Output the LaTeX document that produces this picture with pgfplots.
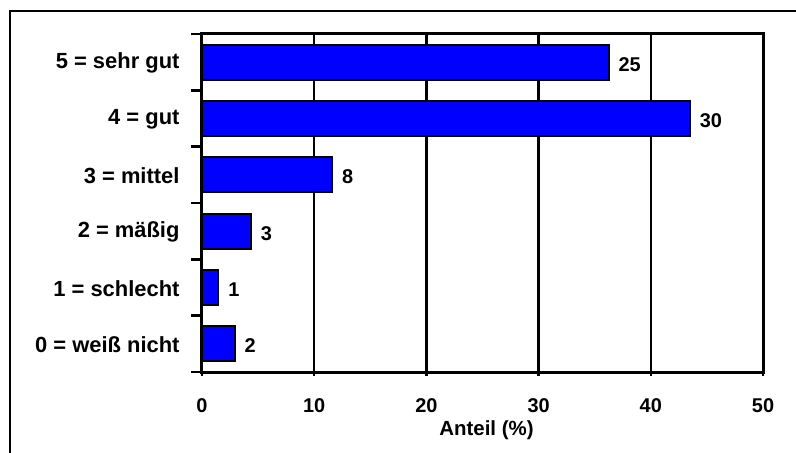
\documentclass[border=0pt]{standalone}
\usepackage{fontspec}
\setmainfont{Liberation Sans}
\usepackage{pgfplots}
\usepackage{pgfplotstable}
\pgfplotsset{compat=1.18}

% rating, share of answers in percent, number of answers
\pgfplotstableread{
cat pct n
0 2.90 2
1 1.45 1
2 4.35 3
3 11.59 8
4 43.48 30
5 36.23 25
}\ratings

\begin{document}
\begin{tikzpicture}
\useasboundingbox (-202bp,-81bp) rectangle (594bp,372bp);
% outer frame
\draw[line width=2.5bp] (-192bp,-81bp) -- (-192bp,361bp) -- (594bp,361bp);
\begin{axis}[
  at={(0,0)}, anchor=south west,
  scale only axis,
  width=561bp, height=338bp,
  xbar, bar width=35bp,
  xmin=0, xmax=50,
  ymin=-0.5, ymax=5.5,
  xtick={0,10,...,50},
  ytick={0,...,5},
  yticklabels={0 = weiß nicht,1 = schlecht,2 = mäßig,3 = mittel,4 = gut,5 = sehr gut},
  minor ytick={-0.5,0.5,...,5.5},
  major tick length=0pt,
  minor tick length=11bp,
  every tick/.style={black, line width=2.5bp},
  ytick pos=left,
  xtick pos=bottom,
  tick align=outside,
  extra x ticks={0,10,...,50},
  extra x tick labels={},
  extra x tick style={major tick length=4bp, tick align=outside, grid=none},
  xmajorgrids,
  grid style={black, line width=2.5bp},
  axis line style={line width=3bp},
  font=\fontsize{20}{24}\selectfont\bfseries,
  /pgf/number format/assume math mode=true,
  xticklabel style={anchor=base, yshift=-40bp},
  yticklabel style={anchor=east, xshift=-19bp, yshift=-1bp, font=\fontsize{22}{26}\selectfont\bfseries},
  xlabel={Anteil (\%)},
  xlabel style={at={(axis description cs:0.5,0)}, anchor=base, yshift=-63bp, xshift=4bp,
    font=\fontsize{20.5}{24}\selectfont\bfseries},
  point meta=explicit symbolic,
  nodes near coords,
  nodes near coords style={anchor=west, fill=white, inner sep=2bp, xshift=7bp, yshift=-2bp},
]
\addplot[fill={rgb,255:red,0;green,0;blue,255}, draw=black, line width=2bp]
  table[x=pct, y=cat, meta=n] {\ratings};
\end{axis}
\end{tikzpicture}
\end{document}
